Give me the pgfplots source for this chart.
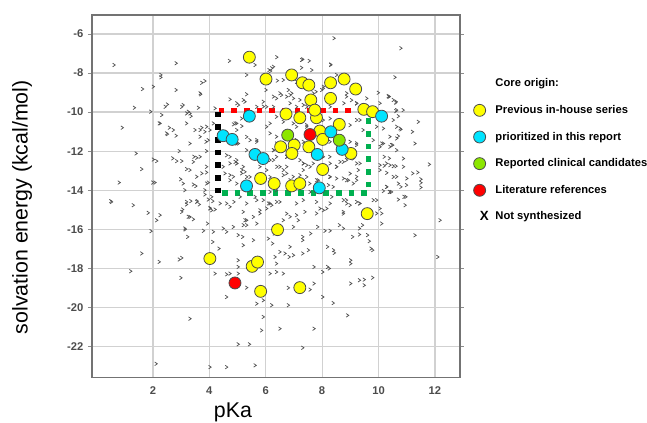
\documentclass[border=0pt]{standalone}
\usepackage{pgfplots}
\pgfplotsset{compat=1.18}
\usepackage{fontspec}
\setmainfont{Liberation Sans}

\definecolor{cyellow}{RGB}{255,255,0}
\definecolor{ccyan}{RGB}{0,228,255}
\definecolor{clime}{RGB}{140,230,0}
\definecolor{cred}{RGB}{255,0,0}
\definecolor{cgreen}{RGB}{0,176,80}

% small ">" chevron used for the not-synthesized compounds
\pgfdeclareplotmark{chev}{%
  \pgfpathmoveto{\pgfqpoint{-0.55\pgfplotmarksize}{0.75\pgfplotmarksize}}%
  \pgfpathlineto{\pgfqpoint{0.55\pgfplotmarksize}{0pt}}%
  \pgfpathlineto{\pgfqpoint{-0.55\pgfplotmarksize}{-0.75\pgfplotmarksize}}%
  \pgfusepathqstroke}

\pgfplotstableread{
x y
0.62 -7.59
2.82 -7.50
2.28 -8.10
2.28 -8.22
3.73 -8.50
3.84 -8.41
1.63 -8.82
2.01 -8.70
2.82 -8.87
3.69 -9.09
1.34 -9.78
1.92 -9.98
2.43 -9.73
2.51 -9.61
3.02 -9.73
3.25 -9.98
3.35 -10.21
3.61 -9.78
4.20 -9.81
4.73 -9.35
4.71 -7.38
5.32 -8.10
5.32 -9.09
5.03 -9.64
8.42 -6.22
10.79 -6.73
6.39 -7.19
7.31 -7.30
7.54 -7.38
7.27 -7.73
7.63 -7.85
8.30 -7.59
5.62 -7.59
6.27 -7.68
6.17 -7.90
10.58 -8.22
6.41 -8.39
6.62 -8.36
8.51 -8.10
8.04 -8.70
7.98 -8.87
7.78 -8.96
6.01 -8.87
6.80 -8.87
6.92 -9.04
6.56 -9.13
8.87 -9.04
9.58 -9.30
9.99 -9.01
10.34 -9.18
10.62 -9.47
9.22 -9.55
8.77 -9.55
7.45 -9.73
6.27 -9.73
10.64 -9.90
10.38 -9.21
10.61 -9.52
10.61 -9.95
10.70 -10.21
11.41 -10.50
10.79 -10.89
10.70 -11.23
11.20 -11.01
11.29 -11.61
10.50 -11.69
10.11 -11.61
10.20 -12.29
10.38 -12.37
10.20 -12.75
10.40 -12.72
10.52 -12.77
10.62 -12.77
11.80 -12.68
10.29 -13.11
11.00 -13.40
11.21 -13.14
11.39 -13.09
11.50 -13.44
11.50 -13.62
11.50 -13.86
10.70 -13.66
10.79 -13.83
10.17 -14.04
10.38 -14.09
10.70 -14.48
10.90 -14.34
10.97 -14.34
10.11 -15.19
12.18 -15.54
11.29 -16.31
12.10 -17.42
0.91 -10.80
2.22 -10.58
2.58 -10.80
2.51 -11.13
2.82 -11.21
3.67 -10.92
3.73 -10.80
3.88 -11.52
1.40 -12.12
2.01 -12.43
2.13 -12.51
2.70 -12.37
2.84 -12.51
3.02 -12.51
2.93 -12.00
3.45 -12.29
3.55 -12.34
3.90 -12.00
1.60 -12.92
0.80 -13.61
1.99 -13.61
2.07 -13.61
2.98 -13.44
3.07 -13.66
3.19 -12.92
3.31 -12.97
3.73 -13.14
3.90 -13.09
3.52 -13.79
3.43 -13.71
3.96 -13.61
3.84 -14.22
0.50 -14.56
1.30 -14.77
1.83 -15.16
2.13 -15.54
2.25 -15.28
3.05 -14.99
3.19 -14.73
3.34 -14.56
3.57 -14.56
3.64 -14.73
3.43 -15.49
3.31 -15.37
3.13 -15.96
4.02 -14.91
4.08 -15.03
4.20 -14.99
3.96 -14.48
4.12 -14.56
4.61 -14.68
4.87 -14.60
5.09 -14.34
4.55 -13.14
4.73 -13.23
4.49 -12.80
4.73 -12.63
4.97 -12.63
5.15 -12.97
5.26 -13.06
4.61 -12.21
4.97 -12.46
4.79 -11.52
4.97 -11.61
4.85 -10.63
5.15 -10.72
3.96 -11.44
3.90 -13.66
5.20 -15.11
5.32 -15.79
5.26 -15.54
9.93 -10.75
10.46 -11.69
10.64 -11.35
10.88 -12.38
10.99 -13.74
10.52 -13.32
10.29 -13.83
10.46 -14.09
9.81 -14.51
10.05 -14.94
8.99 -13.15
8.93 -13.49
8.51 -13.40
8.22 -13.74
7.86 -13.49
7.57 -14.09
8.34 -14.34
8.87 -14.68
8.75 -15.20
8.04 -15.03
7.39 -15.11
7.15 -15.54
6.74 -15.20
6.50 -14.60
6.09 -14.68
5.79 -15.03
5.56 -15.37
5.32 -15.54
5.62 -14.34
6.15 -14.09
6.39 -12.80
6.03 -12.97
5.79 -13.23
7.33 -12.63
7.92 -12.12
8.28 -12.63
7.21 -13.23
7.45 -12.72
8.63 -12.55
9.10 -12.38
9.28 -12.97
8.87 -12.29
6.74 -12.29
6.27 -11.95
5.85 -12.46
5.44 -11.44
5.44 -13.32
0.53 -14.60
1.93 -16.10
1.60 -17.24
1.21 -18.15
2.22 -17.67
2.93 -17.55
3.02 -17.47
2.99 -18.49
2.11 -22.89
3.31 -20.58
3.19 -14.60
3.55 -14.60
3.02 -15.11
3.25 -15.36
3.14 -16.01
3.23 -16.39
3.79 -16.08
3.93 -15.71
4.02 -14.94
4.14 -16.13
4.12 -16.65
4.34 -16.99
4.20 -18.27
4.61 -18.31
4.73 -18.27
5.02 -17.59
5.02 -17.93
5.02 -18.27
4.61 -19.47
4.02 -23.06
4.61 -23.06
5.02 -21.89
5.42 -21.89
5.62 -22.97
5.32 -18.99
5.68 -19.81
5.91 -19.64
5.91 -20.49
5.85 -21.18
6.21 -19.89
6.80 -19.89
6.50 -21.09
7.71 -21.09
7.31 -22.07
6.15 -18.27
6.38 -18.19
6.62 -18.27
6.80 -19.00
7.57 -19.09
7.71 -18.78
8.02 -19.47
8.39 -19.78
8.90 -20.41
8.02 -18.19
8.19 -17.93
8.25 -18.01
9.01 -17.59
9.01 -17.76
9.01 -18.78
9.32 -18.61
9.49 -18.58
9.49 -18.87
9.79 -18.48
9.73 -16.99
9.79 -17.07
9.67 -16.61
9.61 -16.30
9.32 -16.27
9.08 -16.39
9.32 -15.96
9.43 -15.79
8.40 -17.07
8.43 -17.21
8.19 -16.90
7.71 -17.93
7.51 -17.07
7.31 -17.24
6.98 -17.33
6.83 -17.42
6.50 -17.16
6.68 -17.24
6.33 -17.42
6.38 -17.76
6.24 -16.73
6.09 -16.48
6.30 -16.22
6.86 -16.90
7.31 -16.56
7.31 -16.39
7.59 -16.22
8.10 -16.08
8.28 -16.08
8.75 -15.96
8.61 -15.79
7.84 -15.88
6.98 -15.88
6.62 -15.54
5.68 -15.71
5.20 -15.79
5.02 -16.30
5.18 -16.39
5.56 -16.56
5.20 -16.82
4.61 -16.13
4.49 -15.96
4.85 -15.88
5.79 -15.19
6.03 -14.94
6.21 -14.77
6.86 -15.36
7.09 -15.28
7.80 -15.19
7.92 -14.94
8.16 -14.94
8.75 -15.11
8.99 -14.77
9.32 -14.68
9.93 -15.19
10.11 -15.71
10.94 -14.77
6.11 -7.85
6.21 -7.76
7.27 -7.33
8.30 -7.56
7.09 -8.45
8.04 -8.79
8.18 -8.62
6.86 -9.13
6.98 -9.30
6.38 -9.30
5.91 -9.47
6.03 -9.73
9.04 -9.39
9.22 -9.56
10.35 -9.21
7.09 -9.73
7.33 -9.64
8.28 -9.73
5.26 -9.47
5.68 -9.73
4.97 -10.58
5.14 -10.33
6.15 -10.58
6.38 -10.24
6.62 -10.50
7.09 -10.75
7.45 -10.67
8.04 -10.41
8.28 -10.33
8.99 -10.67
9.22 -10.41
10.17 -10.84
10.52 -10.41
10.76 -10.84
5.32 -11.27
5.68 -11.52
6.15 -11.09
6.38 -11.61
7.09 -11.44
7.33 -11.52
8.28 -11.52
8.99 -11.52
9.22 -11.69
9.81 -11.44
10.17 -11.61
10.40 -11.78
4.73 -12.29
4.97 -12.63
5.20 -12.80
6.15 -12.46
6.38 -12.29
6.74 -12.80
7.33 -12.63
7.57 -12.80
8.04 -12.29
8.51 -12.80
8.75 -12.55
9.22 -12.63
10.05 -12.72
10.88 -12.80
4.73 -13.49
4.97 -13.66
5.32 -13.32
6.15 -13.32
6.62 -13.23
6.86 -13.49
7.45 -13.32
7.80 -13.49
8.28 -13.32
8.75 -13.40
9.10 -13.66
9.22 -13.49
10.40 -14.09
5.68 -14.51
6.15 -14.68
6.38 -14.60
7.09 -14.68
7.33 -14.51
7.80 -14.60
8.28 -14.68
8.75 -14.51
9.22 -14.60
3.90 -10.75
4.02 -10.92
4.14 -10.58
2.48 -11.09
2.72 -10.92
2.25 -10.58
2.31 -10.15
3.19 -10.07
3.07 -9.64
3.31 -10.07
3.67 -9.04
3.19 -10.58
3.49 -10.92
3.67 -11.26
3.84 -11.01
3.31 -11.61
3.67 -12.29
3.43 -12.55
3.90 -12.80
3.55 -13.31
3.13 -14.00
3.84 -14.00
4.08 -14.34
4.97 -9.55
5.20 -9.38
5.91 -9.72
6.27 -9.21
6.50 -9.04
6.86 -9.55
4.91 -10.58
5.03 -11.61
5.32 -11.95
4.91 -12.55
5.14 -13.14
4.85 -13.31
5.32 -14.00
5.79 -12.80
6.27 -12.46
6.50 -12.80
6.74 -13.14
6.38 -14.00
5.91 -14.51
5.32 -14.68
4.73 -14.85
4.38 -14.68
4.97 -10.92
6.03 -10.75
6.38 -11.26
6.27 -11.95
6.62 -11.61
5.68 -11.43
6.74 -9.21
7.21 -9.38
7.68 -9.04
8.86 -9.21
9.22 -9.55
10.05 -9.55
10.52 -9.38
10.87 -9.90
10.64 -10.75
10.40 -11.26
10.05 -11.78
10.64 -11.95
10.28 -12.63
10.05 -12.97
10.64 -13.31
10.28 -13.83
9.93 -14.51
9.34 -14.68
8.86 -14.51
8.39 -13.83
8.27 -13.31
8.51 -12.80
8.86 -12.46
9.34 -12.63
9.22 -13.31
8.86 -13.49
8.04 -14.00
7.56 -13.66
7.33 -12.97
6.97 -13.31
6.62 -12.97
6.74 -12.29
7.21 -12.46
7.68 -12.63
8.27 -12.29
9.22 -11.60
9.45 -10.92
9.34 -10.41
7.45 -10.75
6.97 -10.58
}\notsynth

\pgfplotstableread{
x y
5.42 -7.19
6.01 -8.31
6.92 -8.10
7.30 -8.50
7.53 -8.62
8.30 -8.50
8.78 -8.31
9.19 -8.82
7.60 -9.38
8.30 -9.30
9.48 -9.86
9.79 -9.98
6.72 -10.10
7.21 -10.29
7.80 -10.29
7.74 -9.90
8.61 -10.63
7.92 -10.97
8.02 -11.40
6.53 -11.78
7.01 -11.69
6.93 -12.12
7.53 -11.78
9.02 -12.12
8.02 -12.94
5.82 -13.40
6.30 -13.66
6.92 -13.78
7.21 -13.66
9.60 -15.20
6.42 -16.02
4.02 -17.50
5.52 -17.90
5.71 -17.68
5.82 -19.18
7.21 -18.99
}\inhouse

\pgfplotstableread{
x y
5.42 -10.21
4.49 -11.21
4.81 -11.40
5.62 -12.17
5.91 -12.38
5.32 -13.78
7.83 -12.17
8.31 -11.01
8.71 -11.91
7.90 -13.88
10.11 -10.21
}\prioritized

\begin{document}
\begin{tikzpicture}
\useasboundingbox (-69pt,-33.75pt) rectangle (416.25pt,283.25pt);
\begin{axis}[
  at={(0pt,0pt)}, anchor=south west,
  scale only axis, width=276pt, height=272pt,
  xmin=-0.16, xmax=12.89, ymin=-23.6, ymax=-5.03,
  xtick={2,4,...,12}, ytick={-22,-20,...,-6},
  /pgf/number format/assume math mode=true,
  tick label style={font=\bfseries\fontsize{8.4}{10}\selectfont, text=black!70},
  xtick style={draw=none},
  ytick style={black!45, line width=0.6pt},
  tick align=outside, major tick length=3pt,
  axis line style={black!55, line width=0.9pt},
  grid=major,
  major grid style={black!18, line width=0.9pt},
  xlabel={pKa}, ylabel={solvation energy (kcal/mol)},
  label style={font=\fontsize{16}{19}\selectfont},
  xlabel style={at={(axis description cs:0.383,-0.096)}, anchor=center},
  ylabel style={at={(axis description cs:-0.19,0.47)}, anchor=center},
  legend style={draw=none, fill=none, at={(axis description cs:1,0.84)},
    anchor=north west, xshift=3pt,
    font=\bfseries\fontsize{8.4}{10}\selectfont, row sep=8.4pt,
    /tikz/every odd column/.append style={column sep=3pt}},
  legend cell align=left,
]
\addplot[only marks, mark=chev, mark size=1.8pt, mark options={black!68, line width=0.55pt}, forget plot]
  table {\notsynth};

\addplot[cred, line width=4.2pt, dash pattern=on 4.2pt off 5.3pt, forget plot]
  coordinates {(4.33,-9.93) (9.52,-9.93)};
\addplot[black, line width=4.2pt, dash pattern=on 4.2pt off 5.3pt, forget plot]
  coordinates {(4.31,-9.98) (4.31,-14.2)};
\addplot[cgreen, line width=4.2pt, dash pattern=on 4.2pt off 5.3pt, forget plot]
  coordinates {(4.45,-14.14) (9.64,-14.14) (9.64,-10.0)};

\addlegendimage{empty legend}
\addplot[only marks, mark=*, mark size=4.5pt, mark options={fill=cyellow, draw=black!70, line width=0.6pt}]
  table {\inhouse};
\addplot[only marks, mark=*, mark size=4.5pt, mark options={fill=ccyan, draw=black!70, line width=0.6pt}]
  table {\prioritized};
\addplot[only marks, mark=*, mark size=4.5pt, mark options={fill=clime, draw=black!70, line width=0.6pt}]
  coordinates {(6.78,-11.18) (8.61,-11.44)};
\addplot[only marks, mark=*, mark size=4.5pt, mark options={fill=cred, draw=black!70, line width=0.6pt}]
  coordinates {(7.57,-11.15) (4.91,-18.75)};
\addlegendimage{legend image code/.code={\node[inner sep=0pt, font=\bfseries\fontsize{10}{12}\selectfont] at (0.3cm,0pt) {X};}}
\legend{Core origin:, Previous in-house series, prioritized in this report, Reported clinical candidates, Literature references, Not synthesized}
\end{axis}
\end{tikzpicture}
\end{document}
